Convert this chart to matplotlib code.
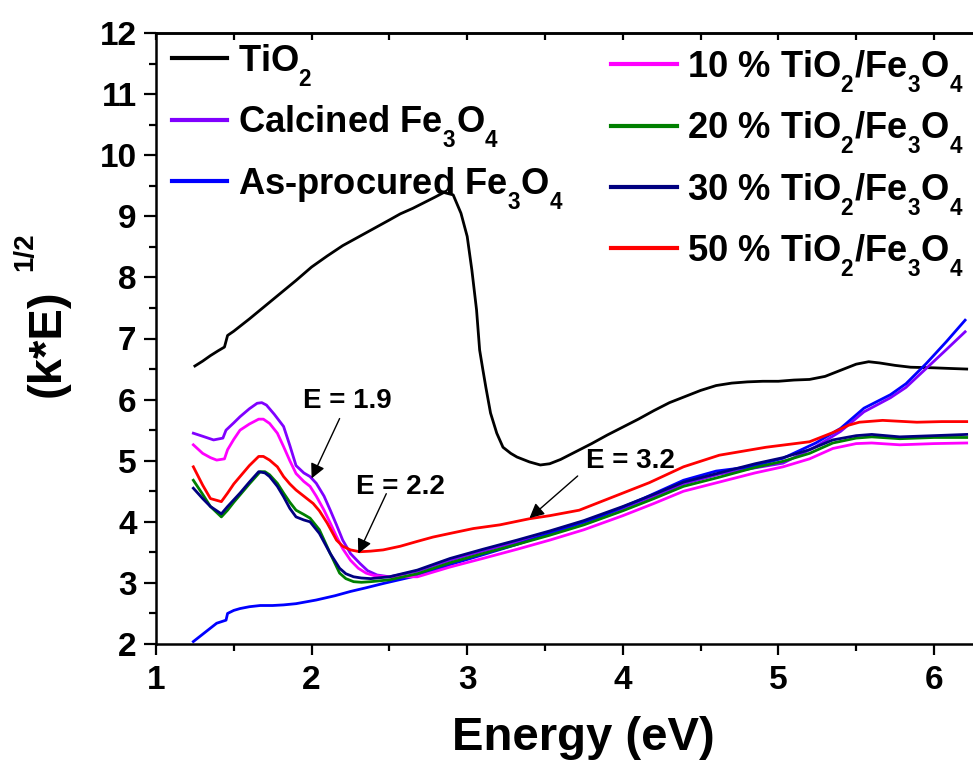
import numpy as np
import matplotlib
matplotlib.use("Agg")
import matplotlib.pyplot as plt
from matplotlib.ticker import MultipleLocator
import matplotlib._mathtext as _mt

plt.rcParams['font.family'] = ['Liberation Sans', 'DejaVu Sans']
plt.rcParams['font.weight'] = 'bold'
plt.rcParams['mathtext.fontset'] = 'custom'
plt.rcParams['mathtext.rm'] = 'Liberation Sans:bold'
plt.rcParams['mathtext.bf'] = 'Liberation Sans:bold'
plt.rcParams['mathtext.it'] = 'Liberation Sans:bold'
# lower and shrink subscripts like the original (Origin-style)
_mt.FontConstantsBase.sub1 = 0.75
_mt.SHRINK_FACTOR = 0.62

# ---------------- data ----------------
tio2_x = [1.25, 1.30, 1.35, 1.40, 1.44, 1.46, 1.50, 1.55, 1.60, 1.70, 1.80, 1.90, 2.00, 2.10, 2.20,
          2.30, 2.40, 2.50, 2.57, 2.65, 2.72, 2.79, 2.85, 2.91, 2.96, 3.00, 3.03, 3.06, 3.08, 3.10,
          3.12, 3.15, 3.19, 3.23, 3.28, 3.32, 3.40, 3.47, 3.53, 3.60, 3.70, 3.80, 3.90, 4.00, 4.10,
          4.20, 4.30, 4.40, 4.50, 4.60, 4.70, 4.80, 4.90, 5.00, 5.10, 5.20, 5.30, 5.40, 5.50, 5.58,
          5.65, 5.75, 5.85, 6.00, 6.10, 6.21]
tio2_y = [6.55, 6.63, 6.72, 6.80, 6.86, 7.05, 7.12, 7.22, 7.32, 7.53, 7.74, 7.95, 8.17, 8.35, 8.52,
          8.66, 8.80, 8.94, 9.04, 9.13, 9.22, 9.31, 9.39, 9.35, 9.05, 8.67, 8.12, 7.47, 6.81, 6.50,
          6.20, 5.78, 5.45, 5.22, 5.12, 5.06, 4.98, 4.93, 4.95, 5.02, 5.15, 5.28, 5.42, 5.55, 5.68,
          5.82, 5.95, 6.05, 6.15, 6.23, 6.27, 6.29, 6.30, 6.30, 6.32, 6.33, 6.38, 6.48, 6.58, 6.62,
          6.60, 6.56, 6.53, 6.52, 6.51, 6.50]

calc_x = [1.24, 1.30, 1.37, 1.43, 1.45, 1.50, 1.54, 1.60, 1.65, 1.68, 1.71, 1.76, 1.82, 1.86, 1.90,
          1.95, 1.99, 2.03, 2.08, 2.12, 2.16, 2.20, 2.25, 2.31, 2.36, 2.42, 2.50, 2.68, 2.89, 3.10,
          3.32, 3.53, 3.75, 4.00, 4.20, 4.39, 4.62, 4.82, 5.03, 5.24, 5.40, 5.55, 5.72, 5.82, 5.95,
          6.08, 6.20]
calc_y = [5.45, 5.40, 5.34, 5.37, 5.50, 5.62, 5.72, 5.85, 5.94, 5.95, 5.91, 5.76, 5.56, 5.25, 4.92,
          4.80, 4.74, 4.63, 4.42, 4.19, 3.95, 3.70, 3.48, 3.32, 3.20, 3.13, 3.10, 3.19, 3.37, 3.52,
          3.67, 3.82, 3.99, 4.22, 4.42, 4.62, 4.78, 4.87, 4.96, 5.23, 5.48, 5.80, 6.03, 6.20, 6.51,
          6.82, 7.11]

asp_x = [1.24, 1.30, 1.35, 1.39, 1.45, 1.46, 1.50, 1.54, 1.60, 1.67, 1.75, 1.82, 1.90, 2.03, 2.15,
         2.25, 2.35, 2.46, 2.68, 2.89, 3.10, 3.32, 3.53, 3.85, 4.13, 4.39, 4.60, 4.82, 5.03, 5.24,
         5.40, 5.55, 5.72, 5.82, 5.95, 6.08, 6.20]
asp_y = [2.04, 2.16, 2.26, 2.34, 2.39, 2.50, 2.55, 2.58, 2.61, 2.63, 2.63, 2.64, 2.66, 2.72, 2.79,
         2.86, 2.92, 2.99, 3.12, 3.30, 3.46, 3.63, 3.81, 4.08, 4.38, 4.68, 4.83, 4.90, 5.04, 5.29,
         5.53, 5.86, 6.08, 6.26, 6.59, 6.95, 7.30]

p10_x = [1.24, 1.30, 1.35, 1.39, 1.44, 1.46, 1.50, 1.54, 1.60, 1.66, 1.69, 1.73, 1.78, 1.82, 1.86,
         1.90, 1.95, 1.99, 2.03, 2.08, 2.12, 2.16, 2.20, 2.25, 2.30, 2.35, 2.40, 2.48, 2.68, 2.89,
         3.10, 3.32, 3.53, 3.75, 4.00, 4.20, 4.39, 4.62, 4.85, 5.03, 5.20, 5.35, 5.50, 5.60, 5.78,
         6.00, 6.21]
p10_y = [5.26, 5.12, 5.05, 5.01, 5.03, 5.18, 5.35, 5.50, 5.60, 5.68, 5.68, 5.61, 5.45, 5.23, 5.00,
         4.79, 4.66, 4.58, 4.42, 4.19, 3.98, 3.76, 3.56, 3.37, 3.24, 3.16, 3.12, 3.10, 3.10, 3.26,
         3.40, 3.55, 3.70, 3.87, 4.10, 4.30, 4.50, 4.65, 4.80, 4.90, 5.03, 5.20, 5.28, 5.29, 5.26,
         5.28, 5.29]

p20_x = [1.24, 1.30, 1.35, 1.42, 1.46, 1.50, 1.54, 1.60, 1.67, 1.70, 1.73, 1.78, 1.82, 1.86, 1.90,
         1.95, 1.99, 2.05, 2.12, 2.18, 2.22, 2.27, 2.32, 2.38, 2.50, 2.68, 2.89, 3.10, 3.32, 3.53,
         3.75, 4.00, 4.20, 4.39, 4.62, 4.85, 5.03, 5.20, 5.35, 5.50, 5.60, 5.78, 6.00, 6.21]
p20_y = [4.68, 4.45, 4.25, 4.08, 4.19, 4.32, 4.44, 4.62, 4.82, 4.82, 4.77, 4.63, 4.47, 4.32, 4.19,
         4.12, 4.06, 3.87, 3.48, 3.16, 3.07, 3.02, 3.01, 3.02, 3.05, 3.15, 3.33, 3.48, 3.63, 3.78,
         3.95, 4.18, 4.38, 4.58, 4.73, 4.89, 4.99, 5.12, 5.29, 5.37, 5.39, 5.36, 5.38, 5.38]

p30_x = [1.24, 1.30, 1.35, 1.42, 1.46, 1.50, 1.54, 1.60, 1.66, 1.70, 1.73, 1.78, 1.82, 1.86, 1.90,
         1.95, 1.99, 2.05, 2.12, 2.18, 2.22, 2.27, 2.32, 2.38, 2.50, 2.68, 2.89, 3.10, 3.32, 3.53,
         3.75, 4.00, 4.20, 4.39, 4.62, 4.85, 5.03, 5.20, 5.35, 5.50, 5.60, 5.78, 6.00, 6.21]
p30_y = [4.55, 4.38, 4.25, 4.13, 4.25, 4.36, 4.47, 4.65, 4.82, 4.80, 4.74, 4.58, 4.41, 4.22, 4.08,
         4.03, 4.00, 3.81, 3.48, 3.24, 3.15, 3.10, 3.08, 3.07, 3.10, 3.21, 3.40, 3.55, 3.70, 3.85,
         4.02, 4.25, 4.45, 4.65, 4.80, 4.95, 5.05, 5.18, 5.34, 5.41, 5.43, 5.39, 5.41, 5.43]

p50_x = [1.24, 1.30, 1.35, 1.42, 1.46, 1.50, 1.54, 1.60, 1.66, 1.69, 1.73, 1.78, 1.82, 1.86, 1.90,
         1.95, 2.01, 2.05, 2.10, 2.16, 2.20, 2.25, 2.31, 2.38, 2.46, 2.57, 2.68, 2.78, 2.89, 3.04,
         3.21, 3.40, 3.53, 3.72, 3.85, 4.05, 4.17, 4.39, 4.62, 4.92, 5.20, 5.35, 5.45, 5.52, 5.67,
         5.89, 6.05, 6.21]
p50_y = [4.90, 4.60, 4.38, 4.33, 4.47, 4.62, 4.74, 4.92, 5.07, 5.07, 5.01, 4.90, 4.74, 4.62, 4.52,
         4.42, 4.30, 4.18, 3.98, 3.70, 3.60, 3.54, 3.51, 3.52, 3.54, 3.60, 3.68, 3.75, 3.81, 3.89,
         3.95, 4.05, 4.10, 4.19, 4.32, 4.52, 4.64, 4.90, 5.09, 5.22, 5.31, 5.46, 5.58, 5.63, 5.66,
         5.63, 5.64, 5.64]

series = [
    ("TiO$_2$", tio2_x, tio2_y, "#000000"),
    ("Calcined Fe$_3$O$_4$", calc_x, calc_y, "#8000ff"),
    ("As-procured Fe$_3$O$_4$", asp_x, asp_y, "#0000ff"),
    ("10 % TiO$_2$/Fe$_3$O$_4$", p10_x, p10_y, "#ff00ff"),
    ("20 % TiO$_2$/Fe$_3$O$_4$", p20_x, p20_y, "#008000"),
    ("30 % TiO$_2$/Fe$_3$O$_4$", p30_x, p30_y, "#000080"),
    ("50 % TiO$_2$/Fe$_3$O$_4$", p50_x, p50_y, "#ff0000"),
]

annot_labels = ["E = 1.9", "E = 2.2", "E = 3.2"]
annot_text_xy = [(2.23, 5.98), (2.57, 4.57), (4.05, 5.00)]
annot_arrow_start = [(2.18, 5.69), (2.48, 4.46), (3.71, 4.75)]
annot_arrow_end = [(2.00, 4.71), (2.30, 3.48), (3.40, 4.06)]

# ---------------- figure ----------------
W, H = 973, 765
fig = plt.figure(figsize=(W / 100, H / 100), dpi=100)
ax_left, ax_bottom_px, ax_top_px = 156, 644, 33
x0, x1 = 1.0, 6.4
px_per_unit = 155.6
ax = fig.add_axes([ax_left / W, (H - ax_bottom_px) / H,
                   (x1 - x0) * px_per_unit / W, (ax_bottom_px - ax_top_px) / H])

lines = []
for lab, xs, ys, col in series:
    ln, = ax.plot(xs, ys, color=col, lw=2.0, label=lab)
    lines.append(ln)

ax.set_xlim(x0, x1)
ax.set_ylim(2, 12)
ax.xaxis.set_major_locator(MultipleLocator(1))
ax.xaxis.set_minor_locator(MultipleLocator(0.5))
ax.yaxis.set_major_locator(MultipleLocator(1))
ax.yaxis.set_minor_locator(MultipleLocator(0.5))
ax.tick_params(axis='both', which='major', direction='out', length=9, width=1.6,
               labelsize=24, pad=5)
ax.tick_params(axis='both', which='minor', direction='out', length=5, width=1.6)
ax.tick_params(axis='x', which='major', length=8, pad=7)
for lbl in ax.get_xticklabels() + ax.get_yticklabels():
    lbl.set_fontweight('bold')
for s in ax.spines.values():
    s.set_linewidth(1.8)

sec = ax.secondary_xaxis('top')
sec.set_xticks(np.arange(1.0, 6.6, 0.5))
sec.tick_params(direction='in', length=5, width=1.6, labeltop=False)
sec.spines['top'].set_linewidth(1.8)

# annotations
for txt, txy, st, en in zip(annot_labels, annot_text_xy, annot_arrow_start, annot_arrow_end):
    ax.text(txy[0], txy[1], txt, fontsize=20, fontweight='bold', ha='center', va='center')
    ax.annotate('', xy=en, xytext=st,
                arrowprops=dict(arrowstyle='-|>', color='black', lw=1.0,
                                mutation_scale=22, shrinkA=0, shrinkB=0))

# legends
leg1 = ax.legend(handles=lines[:3], loc='upper left', bbox_to_anchor=(172 / W, 1 - 42 / H),
                 bbox_transform=fig.transFigure, frameon=False, fontsize=26.2,
                 handlelength=1.5, handletextpad=0.3, labelspacing=0.42, borderpad=0,
                 borderaxespad=0)
ax.add_artist(leg1)
leg2 = ax.legend(handles=lines[3:], loc='upper left', bbox_to_anchor=(611 / W, 1 - 48 / H),
                 bbox_transform=fig.transFigure, frameon=False, fontsize=26.2,
                 handlelength=1.8, handletextpad=0.3, labelspacing=0.42, borderpad=0,
                 borderaxespad=0)
for lg in (leg1, leg2):
    for t in lg.get_texts():
        t.set_fontweight('bold')
    for l in lg.get_lines():
        l.set_linewidth(3)

# axis labels
fig.text(583 / W, 1 - 750 / H, "Energy (eV)", fontsize=34, fontweight='bold',
         ha='center', va='baseline')
fig.text(48 / W, 1 - 343 / H, "(k*E)", fontsize=34, fontweight='bold',
         rotation=90, ha='center', va='center')
fig.text(25 / W, 1 - 252 / H, "1/2", fontsize=20, fontweight='bold',
         rotation=90, ha='center', va='center')

fig.savefig("out.png", dpi=100)
